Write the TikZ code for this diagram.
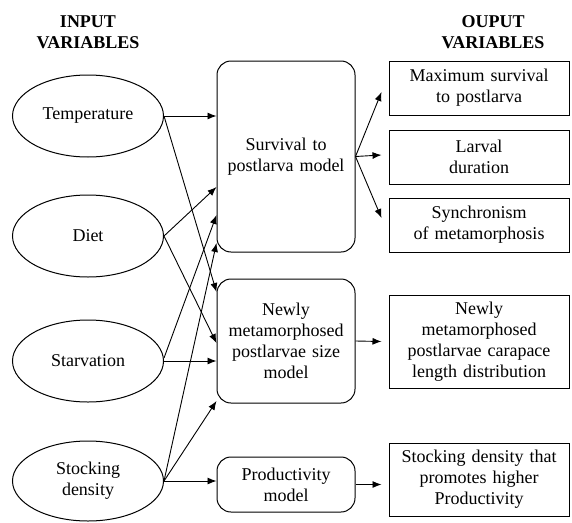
\documentclass[tikz,border=0pt]{standalone}
\usepackage{fontspec}
\setmainfont{Liberation Serif}
\usepackage{tikz}
\usetikzlibrary{shapes.geometric, arrows.meta}

\begin{document}
\begin{tikzpicture}[x=1pt, y=-1pt, every node/.style={font=\fontsize{18}{21}\selectfont}]
        % Define block styles
        \tikzstyle{invar} = [ellipse, draw, line width=1pt, minimum width=151pt, minimum height=82pt,
                             text width=100pt, text centered, inner sep=2pt]
        \tikzstyle{model} = [rectangle, draw, line width=1pt, rounded corners=14pt,
                             text width=130pt, text centered, inner sep=4pt]
        \tikzstyle{outvar} = [rectangle, draw, line width=1pt,
                              text width=172pt, text centered, inner sep=4pt]
        \tikzstyle{head} = [font=\fontsize{18}{21}\selectfont\bfseries, align=center]
        \tikzstyle{arrow} = [line width=0.9pt, -{Latex[length=9pt,width=7pt]}]

        \useasboundingbox (0,0) rectangle (572,522);

        % Headings
        \node (inhead) [head] at (88,32) {INPUT\\VARIABLES};
        \node (outhead) [head] at (493,32) {OUPUT\\VARIABLES};

        % Input variables
        \node (temp) [invar] at (88,116) {Temperature};
        \node (diet) [invar] at (88,236) {Diet};
        \node (starv) [invar] at (88,361) {Starvation};
        \node (stock) [invar, minimum height=80pt] at (88,481) {Stocking\\density};

        % Models
        \node (survmod) [model, minimum height=191pt] at (286,156.5) {Survival to\\postlarva model};
        \node (sizemod) [model, minimum height=124pt] at (286,341) {Newly\\metamorphosed\\postlarvae size\\model};
        \node (prodmod) [model, minimum height=55pt] at (286,484.5) {Productivity\\model};

        % Output variables
        \node (maxsurv) [outvar, minimum height=54pt] at (479,88) {Maximum survival\\to postlarva};
        \node (larvdur) [outvar, minimum height=54pt] at (479,157) {Larval\\duration};
        \node (synch) [outvar, minimum height=54pt] at (479,225) {Synchronism\\of metamorphosis};
        \node (cldist) [outvar, minimum height=93pt] at (479,341.5) {Newly\\metamorphosed\\postlarvae carapace\\length distribution};
        \node (stockout) [outvar, minimum height=73pt] at (479,479.5) {Stocking density that\\promotes higher\\Productivity};

        % Arrows into the survival model
        \draw [arrow] (temp.east) -- ([yshift=40.5pt]survmod.west);
        \draw [arrow] (diet.east) -- ([yshift=-30.5pt]survmod.west);
        \draw [arrow] ([yshift=3pt]starv.east) -- ([yshift=-58.5pt]survmod.west);
        \draw [arrow] (stock.east) -- ([yshift=-86.5pt]survmod.west);

        % Arrows into the size model
        \draw [arrow] (temp.east) -- ([yshift=49pt]sizemod.west);
        \draw [arrow] (diet.east) -- ([yshift=-2pt]sizemod.west);
        \draw [arrow] (starv.east) -- (sizemod.west |- starv.east);
        \draw [arrow] (stock.east) -- ([yshift=-60pt]sizemod.west);

        % Arrow into the productivity model
        \draw [arrow] (stock.east) -- (prodmod.west |- stock.east);

        % Arrows to the outputs
        \draw [arrow] (survmod.east) -- ([xshift=-7pt, yshift=-4pt]maxsurv.west);
        \draw [arrow] (survmod.east) -- ([xshift=-7pt, yshift=2pt]larvdur.west);
        \draw [arrow] (survmod.east) -- ([xshift=-7pt, yshift=7pt]synch.west);
        \draw [arrow] (sizemod.east) -- ([xshift=-7pt]cldist.west);
        \draw [arrow, shorten >=7pt] (prodmod.east) -- (prodmod.east -| stockout.west);
    \end{tikzpicture}
\end{document}
